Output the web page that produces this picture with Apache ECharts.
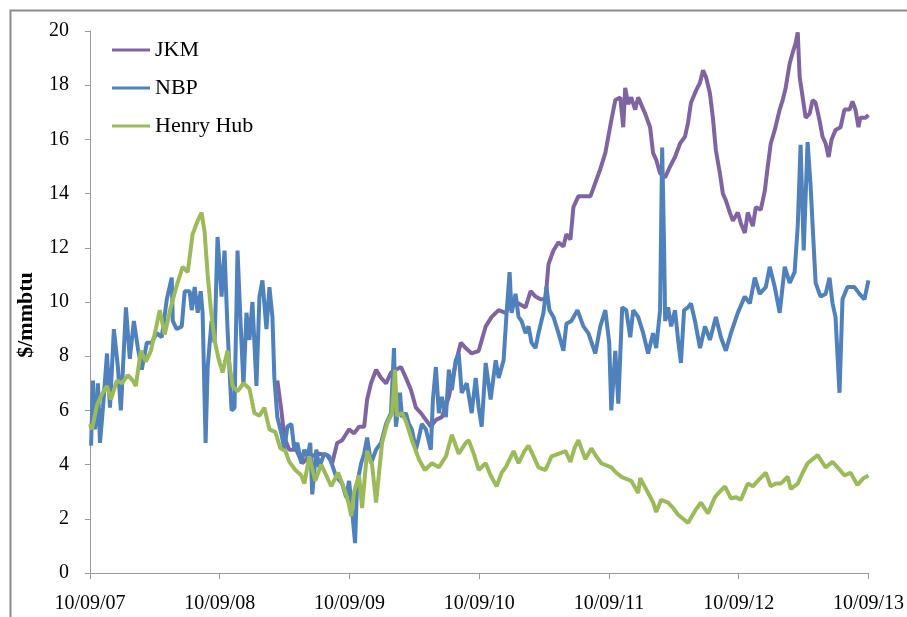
<!DOCTYPE html>
<html>
<head>
<meta charset="utf-8">
<script src="https://cdn.jsdelivr.net/npm/echarts@6/dist/echarts.min.js"></script>
<style>
html,body{margin:0;padding:0;background:#fff;}
#chart{width:907px;height:617px;}
</style>
</head>
<body>
<div id="chart"></div>
<script>
// x = years since 10/09/07
const tickLabels = ['10/09/07','10/09/08','10/09/09','10/09/10','10/09/11','10/09/12','10/09/13'];
const seriesNames = ['JKM','NBP','Henry Hub'];
const yAxisTitle = '$/mmbtu';

const jkm = [
[1.444,7.1],[1.475,6.0],[1.498,5.0],[1.536,4.55],[1.590,4.55],[1.636,4.05],[1.690,4.3],[1.767,4.4],
[1.828,4.35],[1.867,4.05],[1.905,4.8],[1.944,4.9],[1.997,5.3],[2.036,5.15],[2.074,5.4],[2.113,5.4],
[2.136,6.4],[2.166,7.0],[2.205,7.5],[2.243,7.2],[2.282,7.0],[2.320,7.4],[2.358,7.5],[2.397,7.6],
[2.435,7.2],[2.474,6.75],[2.512,6.1],[2.551,5.9],[2.589,5.65],[2.627,5.4],[2.666,5.65],[2.712,5.75],
[2.766,6.5],[2.819,7.75],[2.858,8.5],[2.896,8.3],[2.942,8.1],[2.996,8.2],[3.050,9.1],[3.096,9.45],
[3.150,9.7],[3.203,9.6],[3.250,9.95],[3.303,9.95],[3.357,9.8],[3.396,10.4],[3.434,10.2],[3.472,10.1],
[3.511,10.1],[3.534,11.4],[3.572,11.9],[3.611,12.2],[3.649,12.05],[3.672,12.5],[3.703,12.3],[3.726,13.5],
[3.764,13.9],[3.818,13.9],[3.857,13.9],[3.895,14.4],[3.933,14.9],[3.972,15.5],[3.995,16.1],[4.018,16.7],
[4.049,17.45],[4.087,17.55],[4.110,16.45],[4.125,17.9],[4.148,17.3],[4.171,17.55],[4.202,17.1],[4.225,17.55],
[4.279,16.95],[4.317,16.45],[4.340,15.5],[4.364,15.25],[4.394,14.75],[4.433,14.6],[4.471,15.0],[4.509,15.35],
[4.548,15.85],[4.586,16.1],[4.609,16.6],[4.632,17.35],[4.671,17.8],[4.702,18.1],[4.725,18.55],[4.748,18.3],
[4.778,17.7],[4.801,16.8],[4.824,15.6],[4.855,14.75],[4.878,14.0],[4.901,13.75],[4.932,13.3],[4.955,13.0],
[4.993,13.3],[5.017,12.9],[5.047,12.55],[5.070,13.3],[5.109,12.8],[5.132,13.5],[5.170,13.4],[5.201,14.1],
[5.224,15.0],[5.247,15.85],[5.278,16.35],[5.316,17.1],[5.339,17.45],[5.362,17.9],[5.393,18.8],[5.416,19.2],
[5.439,19.55],[5.455,19.95],[5.470,18.3],[5.493,17.55],[5.516,16.8],[5.547,16.95],[5.570,17.45],[5.593,17.35],
[5.623,16.7],[5.646,16.1],[5.670,15.85],[5.693,15.35],[5.716,16.0],[5.746,16.35],[5.785,16.45],[5.815,17.1],
[5.854,17.1],[5.877,17.4],[5.900,17.1],[5.923,16.45],[5.938,16.8],[5.977,16.8],[6.000,16.9]
];

const nbp = [
[0.008,4.7],[0.023,7.1],[0.038,5.3],[0.054,5.9],[0.061,7.0],[0.077,4.8],[0.100,6.1],[0.131,8.1],
[0.154,6.1],[0.184,9.0],[0.215,7.6],[0.238,6.0],[0.277,9.8],[0.307,7.9],[0.338,9.3],[0.369,8.3],
[0.399,7.5],[0.438,8.5],[0.476,8.5],[0.515,8.85],[0.553,8.7],[0.592,10.1],[0.630,10.9],[0.638,9.3],
[0.668,9.0],[0.707,9.1],[0.730,10.4],[0.768,10.4],[0.784,9.7],[0.807,10.55],[0.830,9.6],[0.853,10.4],
[0.868,9.6],[0.891,4.8],[0.907,7.6],[0.937,9.3],[0.960,8.5],[0.983,12.4],[1.014,10.2],[1.037,11.9],
[1.060,9.0],[1.091,6.0],[1.114,6.1],[1.137,11.9],[1.160,9.3],[1.183,6.9],[1.206,9.6],[1.229,8.6],
[1.252,10.0],[1.283,6.9],[1.306,10.2],[1.329,10.8],[1.360,9.0],[1.383,10.55],[1.406,9.45],[1.421,7.2],
[1.444,5.75],[1.475,5.15],[1.498,4.55],[1.521,5.4],[1.552,5.5],[1.575,4.55],[1.598,4.8],[1.629,4.05],
[1.652,4.55],[1.675,4.3],[1.698,4.8],[1.713,2.9],[1.744,4.55],[1.767,3.9],[1.805,4.4],[1.844,4.3],
[1.898,3.55],[1.944,3.3],[1.974,2.8],[1.997,3.4],[2.020,2.3],[2.043,1.1],[2.059,3.3],[2.090,4.05],
[2.113,4.4],[2.136,5.0],[2.166,4.05],[2.205,4.55],[2.243,4.8],[2.282,5.5],[2.320,5.9],[2.343,8.3],
[2.358,5.4],[2.389,6.65],[2.405,5.75],[2.435,5.9],[2.458,5.5],[2.481,5.3],[2.512,4.55],[2.535,5.0],
[2.558,5.5],[2.589,5.3],[2.627,4.55],[2.643,6.4],[2.666,7.6],[2.689,5.9],[2.712,6.5],[2.743,5.75],
[2.766,7.5],[2.789,6.75],[2.819,7.85],[2.842,8.1],[2.865,6.65],[2.904,7.0],[2.942,5.9],[2.973,7.2],
[2.996,6.1],[3.019,5.4],[3.050,7.75],[3.088,6.4],[3.127,7.85],[3.150,7.2],[3.188,7.85],[3.211,9.6],
[3.234,11.1],[3.250,9.6],[3.280,10.3],[3.303,9.45],[3.326,9.3],[3.357,8.85],[3.380,9.1],[3.403,8.5],
[3.434,8.3],[3.457,8.85],[3.495,9.6],[3.518,10.55],[3.541,9.7],[3.572,9.45],[3.611,8.85],[3.649,8.2],
[3.672,9.2],[3.710,9.3],[3.757,9.7],[3.803,9.1],[3.841,8.85],[3.895,8.1],[3.933,9.1],[3.972,9.7],
[4.002,8.5],[4.018,6.0],[4.049,8.2],[4.072,6.25],[4.102,9.8],[4.133,9.7],[4.164,8.7],[4.187,9.7],
[4.225,9.45],[4.264,8.85],[4.302,8.1],[4.340,8.85],[4.364,8.3],[4.394,9.7],[4.410,15.7],[4.425,12.0],
[4.433,9.3],[4.456,9.8],[4.479,9.1],[4.509,9.7],[4.533,8.6],[4.555,7.75],[4.579,9.7],[4.609,9.8],
[4.632,9.95],[4.663,9.3],[4.702,8.3],[4.740,9.1],[4.778,8.6],[4.824,9.45],[4.863,8.7],[4.901,8.2],
[4.940,8.85],[4.993,9.6],[5.047,10.2],[5.086,9.95],[5.124,10.9],[5.162,10.3],[5.209,10.55],[5.239,11.3],
[5.278,10.55],[5.316,9.6],[5.355,11.3],[5.393,10.7],[5.431,11.1],[5.455,12.8],[5.477,15.8],[5.501,11.9],
[5.531,15.9],[5.554,14.3],[5.570,12.8],[5.593,10.7],[5.631,10.2],[5.670,10.3],[5.700,10.9],[5.723,9.95],
[5.746,9.45],[5.777,6.65],[5.800,10.1],[5.838,10.55],[5.892,10.55],[5.931,10.3],[5.969,10.1],[6.000,10.8]
];

const henryHub = [
[0.000,5.5],[0.015,5.3],[0.054,6.2],[0.092,6.6],[0.131,6.9],[0.161,6.4],[0.207,7.1],[0.246,7.0],
[0.292,7.3],[0.330,7.1],[0.353,6.9],[0.392,8.2],[0.430,7.8],[0.469,8.2],[0.507,9.0],[0.538,9.7],
[0.576,8.8],[0.622,9.8],[0.668,10.6],[0.714,11.3],[0.753,11.1],[0.791,12.5],[0.830,13.0],[0.860,13.3],
[0.883,12.6],[0.907,11.0],[0.930,9.8],[0.960,8.6],[0.991,7.9],[1.022,7.4],[1.060,8.2],[1.099,6.9],
[1.137,6.7],[1.183,7.0],[1.229,6.8],[1.267,5.9],[1.306,5.8],[1.344,6.1],[1.383,5.3],[1.429,5.2],
[1.467,4.6],[1.506,4.5],[1.536,4.1],[1.583,3.8],[1.629,3.6],[1.652,3.3],[1.690,4.3],[1.736,3.4],
[1.782,4.0],[1.821,3.6],[1.859,3.2],[1.913,3.7],[1.967,3.0],[1.997,2.5],[2.013,2.1],[2.036,3.0],
[2.074,3.6],[2.097,2.4],[2.136,4.5],[2.174,4.0],[2.205,2.6],[2.251,4.8],[2.289,5.5],[2.328,5.9],
[2.351,7.5],[2.366,5.8],[2.405,5.9],[2.435,5.6],[2.481,4.9],[2.535,4.2],[2.581,3.8],[2.635,4.05],
[2.689,3.9],[2.743,4.3],[2.789,5.1],[2.842,4.4],[2.896,4.8],[2.919,4.9],[2.958,4.4],[2.996,3.8],
[3.050,4.05],[3.088,3.6],[3.134,3.2],[3.173,3.7],[3.204,3.9],[3.265,4.5],[3.303,4.05],[3.349,4.5],
[3.380,4.7],[3.419,4.3],[3.457,3.9],[3.511,3.8],[3.557,4.3],[3.611,4.4],[3.665,4.5],[3.703,4.1],
[3.734,4.6],[3.764,4.9],[3.818,4.2],[3.864,4.6],[3.903,4.3],[3.941,4.05],[4.018,3.9],[4.056,3.7],
[4.095,3.55],[4.172,3.4],[4.225,2.95],[4.241,3.5],[4.302,2.95],[4.341,2.6],[4.364,2.25],[4.402,2.7],
[4.456,2.6],[4.494,2.4],[4.533,2.15],[4.571,2.0],[4.610,1.85],[4.664,2.3],[4.709,2.6],[4.763,2.2],
[4.817,2.8],[4.855,3.0],[4.894,3.2],[4.940,2.75],[4.978,2.8],[5.017,2.7],[5.070,3.3],[5.109,3.2],
[5.147,3.4],[5.209,3.7],[5.247,3.2],[5.286,3.3],[5.324,3.3],[5.378,3.55],[5.401,3.1],[5.455,3.3],
[5.493,3.7],[5.531,4.05],[5.570,4.2],[5.608,4.35],[5.670,3.9],[5.723,4.1],[5.762,3.9],[5.815,3.6],
[5.862,3.7],[5.915,3.25],[5.962,3.5],[6.000,3.6]
];

const colors = ['#8064A2', '#4F81BD', '#9BBB59'];
const FONT = 'Liberation Serif';

const chart = echarts.init(document.getElementById('chart'), null, {renderer: 'canvas'});
function lineSeries(name, data, color) {
  return {
    name: name, type: 'line', data: data, showSymbol: false, symbol: 'none',
    lineStyle: {color: color, width: 4}, itemStyle: {color: color},
    animation: false
  };
}
chart.setOption({
  animation: false,
  backgroundColor: '#ffffff',
  color: colors,
  graphic: [{
    type: 'rect', left: 8, top: 8, z: -1,
    shape: {width: 1000, height: 1000},
    style: {fill: 'none', stroke: '#8a8a8a', lineWidth: 2}
  }, {
    type: 'text', x: 26, y: 315, rotation: Math.PI / 2,
    style: {
      text: yAxisTitle, align: 'center', verticalAlign: 'middle',
      fontFamily: FONT, fontSize: 22, fontWeight: 'bold', fill: '#000'
    }
  }],
  grid: {left: 90, right: 36, top: 31, bottom: 44, containLabel: false},
  legend: {
    orient: 'vertical', left: 107, top: 34,
    icon: 'rect', itemWidth: 38, itemHeight: 3, itemGap: 16,
    data: seriesNames,
    textStyle: {fontFamily: FONT, fontSize: 22, color: '#000', lineHeight: 22}
  },
  xAxis: {
    type: 'value', min: 0, max: 6, interval: 1,
    axisLine: {show: true, lineStyle: {color: '#9a9a9a', width: 1}},
    axisTick: {show: true, length: 6, lineStyle: {color: '#9a9a9a'}},
    splitLine: {show: false},
    axisLabel: {
      margin: 21, fontFamily: FONT, fontSize: 20, color: '#000',
      showMinLabel: true, showMaxLabel: true,
      formatter: v => tickLabels[Math.round(v)]
    }
  },
  yAxis: {
    type: 'value', min: 0, max: 20, interval: 2,
    axisLine: {show: true, lineStyle: {color: '#9a9a9a', width: 1}},
    axisTick: {show: true, length: 5, lineStyle: {color: '#9a9a9a'}},
    splitLine: {show: false},
    axisLabel: {margin: 21, fontFamily: FONT, fontSize: 20, color: '#000'}
  },
  series: [
    lineSeries(seriesNames[0], jkm, colors[0]),
    lineSeries(seriesNames[1], nbp, colors[1]),
    lineSeries(seriesNames[2], henryHub, colors[2])
  ]
});
</script>
</body>
</html>
